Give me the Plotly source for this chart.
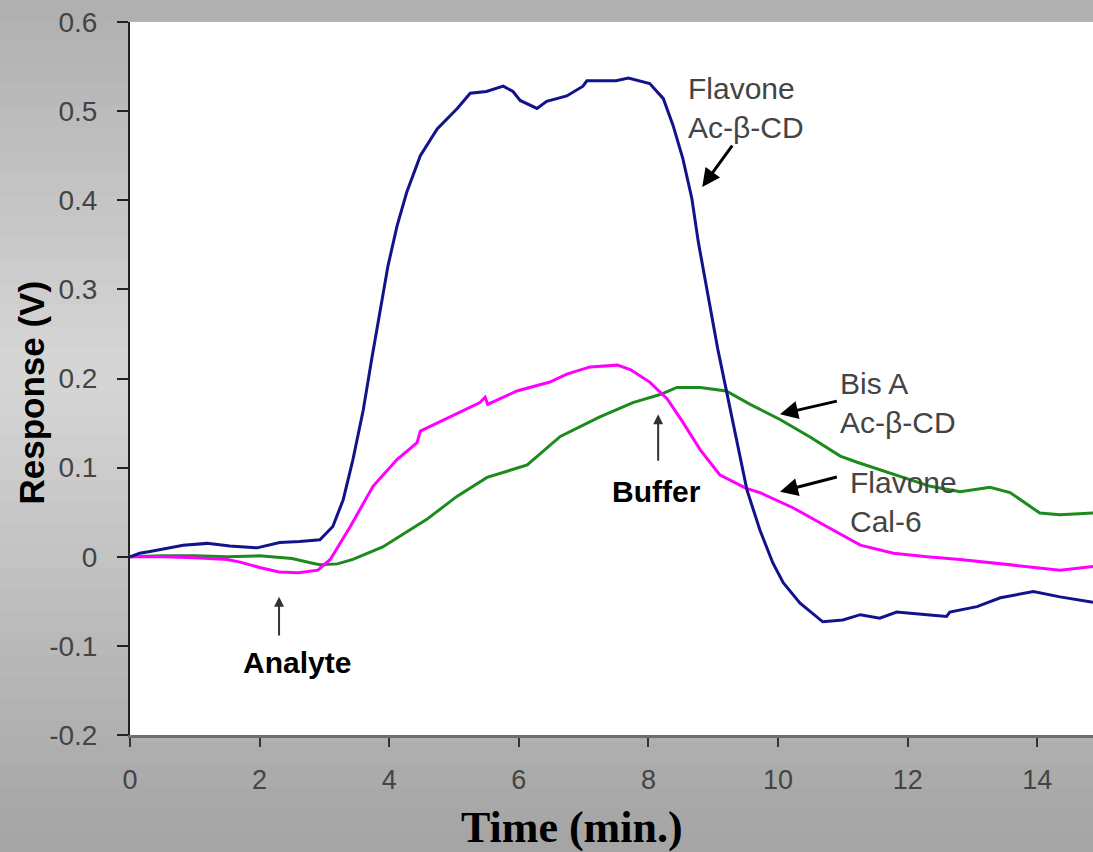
import plotly.graph_objects as go

# time axis (min) and responses (V)
t_blue = [0, 0.15, 0.31, 0.82, 1.19, 1.54, 1.96, 2.31, 2.62, 2.93, 3.13, 3.29, 3.44, 3.6, 3.73,
          3.86, 3.98, 4.12, 4.27, 4.48, 4.74, 5.05, 5.25, 5.5, 5.76, 5.91, 6.02, 6.28, 6.43,
          6.74, 6.99, 7.05, 7.5, 7.69, 8.02, 8.23, 8.38, 8.53, 8.67, 8.77, 9.07, 9.52, 9.72,
          9.92, 10.08, 10.34, 10.69, 11.0, 11.27, 11.57, 11.83, 12.3, 12.6, 12.65, 13.07,
          13.43, 13.94, 14.35, 14.86]
flavone_acbcd = [0, 0.004, 0.006, 0.013, 0.015, 0.012, 0.01, 0.016, 0.017, 0.019, 0.034, 0.064,
                 0.109, 0.165, 0.222, 0.278, 0.326, 0.371, 0.409, 0.45, 0.48, 0.503, 0.52,
                 0.522, 0.528, 0.522, 0.512, 0.503, 0.511, 0.517, 0.528, 0.534, 0.534, 0.537,
                 0.531, 0.514, 0.484, 0.447, 0.402, 0.353, 0.233, 0.075, 0.03, -0.007, -0.029,
                 -0.052, -0.073, -0.071, -0.065, -0.069, -0.062, -0.065, -0.067, -0.062,
                 -0.056, -0.046, -0.039, -0.045, -0.051]

t_mag = [0, 0.5, 1.0, 1.5, 1.7, 2.0, 2.3, 2.6, 2.9, 3.09, 3.4, 3.75, 4.12, 4.43, 4.48, 4.94,
         5.4, 5.48, 5.52, 5.97, 6.48, 6.74, 7.1, 7.52, 7.72, 8.02, 8.29, 8.53, 8.8, 9.1, 9.5,
         9.72, 10.23, 10.75, 11.27, 11.78, 12.3, 12.81, 13.32, 13.84, 14.35, 14.86]
flavone_cal6 = [0, 0.0, -0.001, -0.003, -0.006, -0.012, -0.017, -0.018, -0.015, -0.003, 0.034,
                0.079, 0.109, 0.128, 0.141, 0.157, 0.173, 0.179, 0.171, 0.186, 0.196, 0.205,
                0.213, 0.215, 0.21, 0.196, 0.177, 0.151, 0.12, 0.092, 0.077, 0.072, 0.055,
                0.034, 0.013, 0.004, 0.0, -0.003, -0.007, -0.011, -0.015, -0.011]

t_green = [0, 0.5, 1.0, 1.5, 2.0, 2.5, 2.8, 2.93, 3.2, 3.44, 3.9, 4.58, 5.05, 5.51, 6.13, 6.64,
           7.25, 7.76, 8.18, 8.44, 8.8, 9.2, 9.57, 10.03, 10.5, 10.96, 11.22, 11.88, 12.35,
           12.81, 13.27, 13.58, 14.04, 14.35, 14.86]
bisa_acbcd = [0, 0.001, 0.001, 0.0, 0.001, -0.002, -0.007, -0.009, -0.008, -0.003, 0.011,
              0.042, 0.068, 0.089, 0.103, 0.135, 0.157, 0.173, 0.182, 0.19, 0.19, 0.186, 0.171,
              0.154, 0.134, 0.113, 0.106, 0.09, 0.079, 0.073, 0.078, 0.072, 0.049, 0.047, 0.049]

x_ticks = [0, 2, 4, 6, 8, 10, 12, 14]
y_ticks = [0.6, 0.5, 0.4, 0.3, 0.2, 0.1, 0, -0.1, -0.2]
y_labels = ['0.6', '0.5', '0.4', '0.3', '0.2', '0.1', '0', '-0.1', '-0.2']

fig = go.Figure()
fig.add_trace(go.Scatter(x=t_green, y=bisa_acbcd, mode='lines', line={'color': '#1c8a1c', 'width': 3}))
fig.add_trace(go.Scatter(x=t_mag, y=flavone_cal6, mode='lines', line={'color': '#ff00ff', 'width': 3}))
fig.add_trace(go.Scatter(x=t_blue, y=flavone_acbcd, mode='lines', line={'color': '#12128a', 'width': 3}))

# grey gradient backdrop behind everything, white plot area on top of it
shapes = []
n = 40
for i in range(n):
    f = i / (n - 1)
    # light in the middle, darker at top and bottom
    d = abs(f - 0.55) / 0.55
    g = int(215 - 50 * d)
    y0 = -0.165 + f * 1.2
    shapes.append(dict(type='rect', xref='paper', yref='paper', x0=-0.15, x1=1.05,
                       y0=y0, y1=y0 + 1.2 / n + 0.002, fillcolor=f'rgb({g},{g},{g})',
                       line={'width': 0}, layer='below'))
shapes.append(dict(type='rect', xref='paper', yref='paper', x0=0, x1=1.05, y0=0, y1=1,
                   fillcolor='white', line={'width': 0}, layer='below'))

label_font = {'family': 'Liberation Sans, Arial', 'size': 30, 'color': '#444'}
bold_font = {'family': 'Liberation Sans, Arial', 'size': 30, 'color': 'black', 'weight': 'bold'}

anns = [
    dict(x=8.58, y=0.503, text='Flavone<br>Ac-β-CD', showarrow=False, xanchor='left', align='left', font=label_font),
    dict(x=10.93, y=0.173, text='Bis A<br>Ac-β-CD', showarrow=False, xanchor='left', align='left', font=label_font),
    dict(x=11.08, y=0.061, text='Flavone<br>Cal-6', showarrow=False, xanchor='left', align='left', font=label_font),
    dict(x=8.13, y=0.073, text='Buffer', showarrow=False, font=bold_font),
    dict(x=2.58, y=-0.119, text='Analyte', showarrow=False, font=bold_font),
    # arrows
    dict(x=8.83, y=0.415, ax=9.31, ay=0.463, axref='x', ayref='y', text='', showarrow=True,
         arrowhead=2, arrowsize=1.2, arrowwidth=3, arrowcolor='black'),
    dict(x=10.03, y=0.160, ax=10.93, ay=0.175, axref='x', ayref='y', text='', showarrow=True,
         arrowhead=2, arrowsize=1.2, arrowwidth=3, arrowcolor='black'),
    dict(x=10.03, y=0.073, ax=10.93, ay=0.090, axref='x', ayref='y', text='', showarrow=True,
         arrowhead=2, arrowsize=1.2, arrowwidth=3, arrowcolor='black'),
    dict(x=8.15, y=0.160, ax=8.15, ay=0.106, axref='x', ayref='y', text='', showarrow=True,
         arrowhead=2, arrowsize=1, arrowwidth=2, arrowcolor='#333'),
    dict(x=2.30, y=-0.045, ax=2.30, ay=-0.090, axref='x', ayref='y', text='', showarrow=True,
         arrowhead=2, arrowsize=1, arrowwidth=2, arrowcolor='#333'),
    # axis titles
    dict(xref='paper', yref='paper', x=-0.102, y=0.48, text='<b>Response (V)</b>', showarrow=False,
         textangle=-90, xanchor='center', yanchor='middle',
         font={'family': 'Liberation Sans, Arial', 'size': 35, 'color': 'black'}),
    dict(xref='paper', yref='paper', x=0.459, y=-0.13, text='<b>Time (min.)</b>', showarrow=False,
         xanchor='center', yanchor='middle',
         font={'family': 'Liberation Serif, Times New Roman', 'size': 44, 'color': 'black'}),
]

fig.update_layout(width=1093, height=852, margin=dict(l=130, r=0, t=22, b=117, autoexpand=False),
                  paper_bgcolor='#c8c8c8', plot_bgcolor='white', showlegend=False,
                  shapes=shapes, annotations=anns)
fig.update_xaxes(range=[0, 14.86], tickvals=x_ticks, ticks='outside', ticklen=9, tickwidth=1.5,
                 tickcolor='#333', showline=True, linecolor='#6e6e6e', linewidth=3,
                 showgrid=False, zeroline=False, ticklabelstandoff=10,
                 tickfont={'family': 'Liberation Sans, Arial', 'size': 27, 'color': '#444'})
fig.update_yaxes(range=[-0.2, 0.6], tickvals=y_ticks, ticktext=y_labels, ticks='outside', ticklen=11,
                 tickwidth=2, tickcolor='#222', showline=True, linecolor='#222', linewidth=2,
                 showgrid=False, zeroline=False, ticklabelstandoff=14,
                 tickfont={'family': 'Liberation Sans, Arial', 'size': 28, 'color': '#444'})

fig.write_html("out.html", config={'displayModeBar': False},
               post_script="document.body.style.margin='0';")
